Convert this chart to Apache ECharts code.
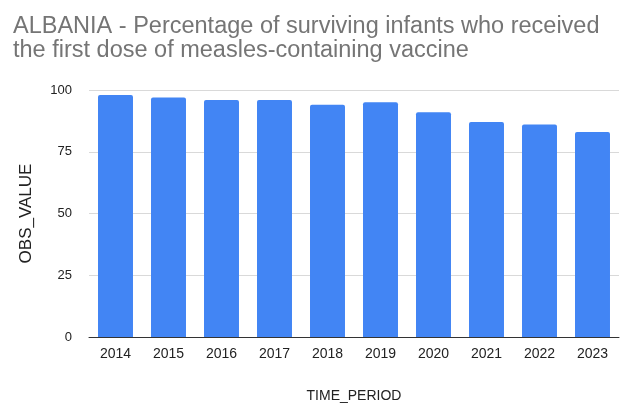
<!DOCTYPE html>
<html>
<head>
<meta charset="utf-8">
<script src="https://cdn.jsdelivr.net/npm/echarts@6/dist/echarts.min.js"></script>
<style>
  html, body { margin: 0; padding: 0; background: #fff; }
  #chart { width: 635px; height: 403px; }
</style>
</head>
<body>
<div id="chart"></div>
<script>
var years = ['2014', '2015', '2016', '2017', '2018', '2019', '2020', '2021', '2022', '2023'];
var obsValues = [98, 97, 96, 96, 94, 95, 91, 87, 86, 83];
var yTicks = [0, 25, 50, 75, 100];

var myChart = echarts.init(document.getElementById('chart'));
var option = {
    animation: false,
    title: {
        text: 'ALBANIA - Percentage of surviving infants who received\nthe first dose of measles-containing vaccine',
        left: 13,
        top: 15,
        padding: 0,
        textStyle: {
            fontFamily: 'Liberation Sans',
            fontSize: 23.5,
            fontWeight: 'normal',
            color: '#757575',
            lineHeight: 24
        }
    },
    grid: {
        left: 89,
        right: 16,
        top: 90,
        bottom: 66,
        outerBoundsMode: 'none'
    },
    xAxis: {
        type: 'category',
        data: years,
        name: 'TIME_PERIOD',
        nameLocation: 'middle',
        nameGap: 52,
        nameTextStyle: { fontFamily: 'Liberation Sans', fontSize: 14, color: '#222' },
        axisLine: { lineStyle: { color: '#333', width: 1 } },
        axisTick: { show: false },
        axisLabel: { fontFamily: 'Liberation Sans', fontSize: 14, color: '#222', margin: 10 }
    },
    yAxis: {
        type: 'value',
        min: yTicks[0],
        max: yTicks[yTicks.length - 1],
        interval: 25,
        name: 'OBS_VALUE',
        nameLocation: 'middle',
        nameGap: 54,
        nameTextStyle: { fontFamily: 'Liberation Sans', fontSize: 17, color: '#222' },
        axisLine: { show: false },
        axisTick: { show: false },
        axisLabel: { fontFamily: 'Liberation Sans', fontSize: 13, color: '#222', margin: 17 },
        splitLine: { lineStyle: { color: '#d9d9d9', width: 1 } }
    },
    series: [{
        name: 'OBS_VALUE',
        type: 'bar',
        data: obsValues,
        barCategoryGap: '34%',
        itemStyle: { color: '#4285F4', borderRadius: [2, 2, 0, 0] }
    }]
};
myChart.setOption(option);
</script>
</body>
</html>
